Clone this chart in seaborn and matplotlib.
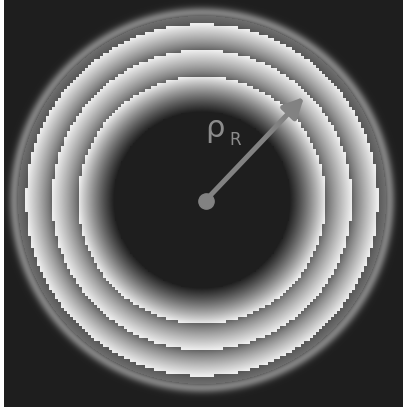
import numpy as np
import matplotlib.pyplot as plt
import seaborn as sns

# ring pattern, image pixel units
center_x = 202.0
center_y = 200.0
wrap_radii = [88, 124, 150, 176, 184]          # band edges (phase wraps)
band_start_gray = [0.12, 0.40, 0.38, 0.34]     # gray just outside each wrap
band_end_gray = [0.93, 0.93, 0.93, 0.43]       # gray just inside next wrap
ring_radius = 187.5
ring_sigma = 4.0
ring_gray = 0.50
background_gray = 0.12

# radius arrow and label
arrow_tail = (205.5, 200.5)
arrow_tip = (304, 97)
rho_pos = (205, 137)
sub_pos = (229, 145)

cell = 1.0      # heatmap cell size in px
step = 3.0      # coarse grid that gives the stepped wrap edges
xs = np.arange(4.5, 403, cell)
ys = np.arange(0.5, 407, cell)
X, Y = np.meshgrid(xs, ys)
r = np.hypot(X - center_x, Y - center_y)
Xc = (np.floor((X - center_x) / step) + 0.5) * step
Yc = (np.floor((Y - center_y) / step) + 0.5) * step
rc = np.hypot(Xc, Yc)

edges = np.array(wrap_radii, dtype=float)
k = np.searchsorted(edges[:-1], rc, side='right') - 1
k = np.where(r >= edges[-1], len(band_start_gray), k)
img = np.full(r.shape, background_gray)
for i in range(len(band_start_gray)):
    m = k == i
    a, b = edges[i], edges[i + 1]
    t = np.clip((r[m] ** 2 - a ** 2) / (b ** 2 - a ** 2), 0, 1)
    if i > 0:
        t = t ** 0.8
    img[m] = band_start_gray[i] + (band_end_gray[i] - band_start_gray[i]) * t

ring = background_gray + (ring_gray - background_gray) * np.exp(-(r - ring_radius) ** 2 / (2 * ring_sigma ** 2))
img = np.maximum(img, ring)

fig = plt.figure(figsize=(4.03, 4.12), dpi=100)
fig.patch.set_facecolor('white')
rect = [4 / 403, 5 / 412, 399 / 403, 407 / 412]
ax = fig.add_axes(rect)
sns.heatmap(img, cmap='gray', vmin=0, vmax=1, cbar=False,
            xticklabels=False, yticklabels=False, ax=ax, rasterized=True)
ax.set_axis_off()

ax2 = fig.add_axes(rect)
ax2.set_xlim(4, 403)
ax2.set_ylim(407, 0)
ax2.axis('off')
ax2.patch.set_alpha(0)

arrow_gray = '#828282'
ax2.annotate('', xy=arrow_tip, xytext=arrow_tail,
             arrowprops=dict(arrowstyle='-|>', lw=3.6, color=arrow_gray,
                             mutation_scale=30, shrinkA=0, shrinkB=0))
ax2.plot([arrow_tail[0]], [arrow_tail[1]], 'o', ms=11, color=arrow_gray)
ax2.text(rho_pos[0], rho_pos[1], 'ρ', fontsize=22, color='#8c8c8c',
         ha='left', va='baseline', family='DejaVu Sans')
ax2.text(sub_pos[0], sub_pos[1], 'R', fontsize=12, color='#8c8c8c',
         ha='left', va='baseline', family='DejaVu Sans')

fig.savefig('out.png', dpi=100)
